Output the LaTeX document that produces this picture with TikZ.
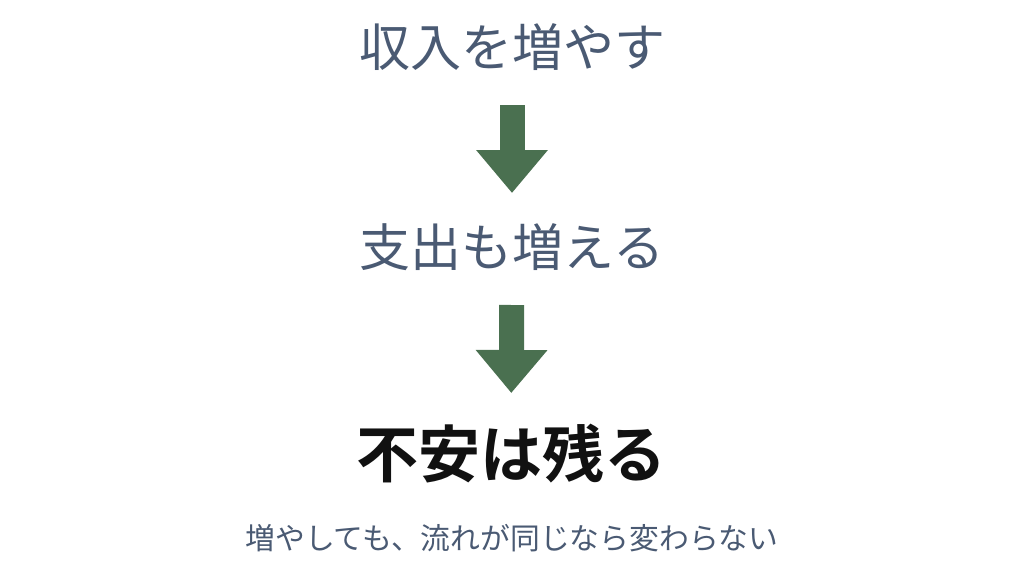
\documentclass[tikz,border=0pt]{standalone}
\usepackage{fontspec}
\newfontfamily\jpfont[BoldFont={Noto Sans CJK JP Bold}]{Noto Sans CJK JP}
\usetikzlibrary{arrows.meta,positioning}

\definecolor{stepgray}{HTML}{4A5A73}
\definecolor{arrowgreen}{HTML}{4A7050}
\definecolor{endblack}{HTML}{111111}

\tikzset{
    steptext/.style={font=\jpfont\fontsize{51}{51}\selectfont, text=stepgray, inner sep=0pt},
    endtext/.style={font=\jpfont\bfseries\fontsize{62}{62}\selectfont, text=endblack, inner sep=0pt},
    notetext/.style={font=\jpfont\fontsize{29.8}{29.8}\selectfont, text=stepgray, inner sep=0pt},
    flow/.style={draw=arrowgreen, line width=25pt,
        -{Triangle[length=43pt,width=69pt,color=arrowgreen]}},
}

\begin{document}
\begin{tikzpicture}[x=1pt,y=1pt]
            \useasboundingbox (0,0) rectangle (1024,-576);
            \node[steptext] (income) at (512,-47) {収入を増やす};
            \node[steptext] (spend) at (512,-247) {支出も増える};
            \node[endtext] (worry) at (511,-454) {不安は残る};
            \node[notetext] (note) at (512,-538) {増やしても、流れが同じなら変わらない};

            \draw[flow, shorten <=58pt, shorten >=54pt] (income.center) -- (spend.center);
            \draw[flow, shorten <=58pt, shorten >=61pt] (spend.center) -- (worry.center);
        \end{tikzpicture}
\end{document}
